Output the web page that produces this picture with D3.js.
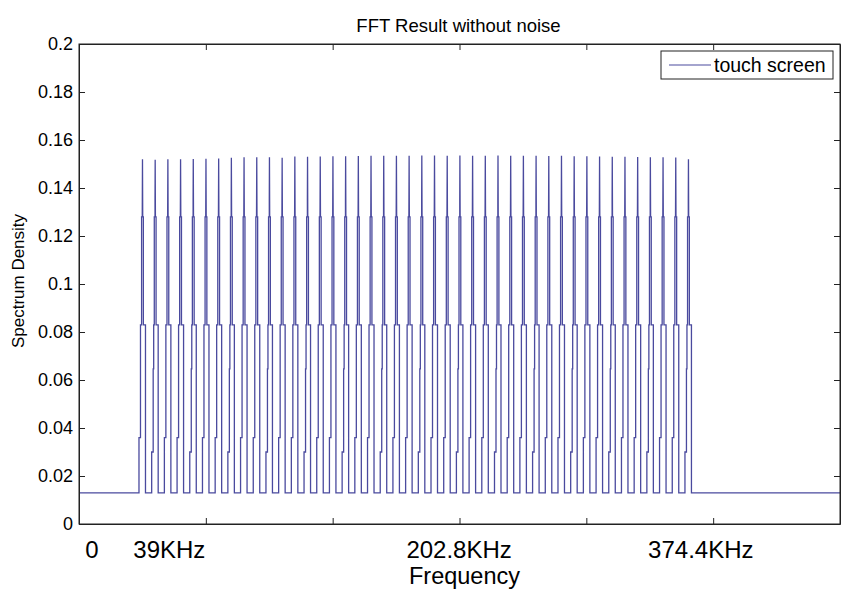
<!DOCTYPE html>
<html>
<head>
<meta charset="utf-8">
<script src="https://cdn.jsdelivr.net/npm/d3@7"></script>
<style>
  html, body { margin: 0; padding: 0; background: #fff; }
  svg { display: block; font-family: "Liberation Sans", Arial, sans-serif; }
</style>
</head>
<body>
<svg id="chart" width="854" height="602"></svg>
<script>
// ---------------- DATA ----------------
const titleText = "FFT Result without noise";
const xLabelText = "Frequency";
const yLabelText = "Spectrum Density";
const legendLabel = "touch screen";

// x domain (kHz) and y domain
const xDomain = [0, 467.5];
const yDomain = [0, 0.2];

// y tick values
const yTicks = [0, 0.02, 0.04, 0.06, 0.08, 0.1, 0.12, 0.14, 0.16, 0.18, 0.2];
// x ticks (unlabelled tick marks, 6 equal intervals)
const xTicks = [77.92, 155.83, 233.75, 311.67, 389.58];
// custom x labels: [position in kHz, text]
const xLabelPos = [8, 55.5, 233.5, 382];
const xLabelTxt = ["0", "39KHz", "202.8KHz", "374.4KHz"];

// carrier peak frequencies (kHz)
const peakFreqs = [39, 46.8, 54.6, 62.4, 70.2, 78, 85.8, 93.6, 101.4, 109.2,
  117, 124.8, 132.6, 140.4, 148.2, 156, 163.8, 171.6, 179.4, 187.2,
  195, 202.8, 210.6, 218.4, 226.2, 234, 241.8, 249.6, 257.4, 265.2,
  273, 280.8, 288.6, 296.4, 304.2, 312, 319.8, 327.6, 335.4, 343.2,
  351, 358.8, 366.6, 374.4];
// peak tip values
const peakTips = [0.1520, 0.1518, 0.1520, 0.1520, 0.1521, 0.1522, 0.1523, 0.1526, 0.1528, 0.1528,
  0.1528, 0.1526, 0.1531, 0.1530, 0.1531, 0.1532, 0.1532, 0.1533, 0.1534, 0.1534,
  0.1534, 0.1534, 0.1535, 0.1535, 0.1534, 0.1535, 0.1534, 0.1534, 0.1535, 0.1534,
  0.1534, 0.1534, 0.1533, 0.1534, 0.1532, 0.1532, 0.1531, 0.1530, 0.1530, 0.1529,
  0.1528, 0.1528, 0.1527, 0.1520];
const baseLevel = 0.013;

// peak profile: [frequency offset kHz, level] ; null level = tip
const profileA = [[-2.15, 0.013], [-2.15, 0.036], [-1.23, 0.036], [-1.23, 0.083], [-0.55, 0.083],
  [-0.55, 0.128], [-0.15, 0.128], [0, null], [0.15, 0.128], [0.55, 0.128], [0.55, 0.083],
  [1.84, 0.083], [1.84, 0.013]];
const profileB = [[-2.15, 0.013], [-2.15, 0.030], [-1.23, 0.030], [-1.23, 0.0646], [-0.92, 0.0646],
  [-0.92, 0.083], [-0.55, 0.083], [-0.55, 0.128], [-0.1, 0.128], [-0.1, 0.135], [0, null], [0.15, 0.128], [0.55, 0.128],
  [0.55, 0.083], [1.84, 0.083], [1.84, 0.036], [1.84, 0.013]];

// ---------------- CHART ----------------
const svg = d3.select("#chart");
const L = 79, R = 840, T = 44, B = 524;
const x = d3.scaleLinear().domain(xDomain).range([L, R]);
const y = d3.scaleLinear().domain(yDomain).range([B, T]);
const lineColor = "#4a4a9e";
const axisColor = "#222";

// build series points
const pts = [[xDomain[0], baseLevel]];
peakFreqs.forEach((f, i) => {
  const prof = (i % 3 === 1) ? profileB : profileA;
  prof.forEach(([df, lv]) => pts.push([f + df, lv === null ? peakTips[i] : lv]));
});
pts.push([xDomain[1], baseLevel]);

svg.append("defs").append("clipPath").attr("id", "clip")
  .append("rect").attr("x", L).attr("y", T).attr("width", R - L).attr("height", B - T);

const line = d3.line().x(d => x(d[0])).y(d => y(d[1]));
svg.append("path")
  .datum(pts)
  .attr("clip-path", "url(#clip)")
  .attr("fill", "none")
  .attr("stroke", lineColor)
  .attr("stroke-width", 1.3)
  .attr("d", line);

// axes (ticks inside)
const tickLen = 6;
const fmt = d => String(+d.toFixed(2));
const gL = svg.append("g").attr("transform", `translate(${L},0)`)
  .call(d3.axisLeft(y).tickValues(yTicks).tickSizeInner(-tickLen).tickSizeOuter(0).tickPadding(6).tickFormat(fmt));
const gR = svg.append("g").attr("transform", `translate(${R},0)`)
  .call(d3.axisRight(y).tickValues(yTicks.slice(1, -1)).tickSizeInner(-tickLen).tickSizeOuter(0).tickFormat(""));
const gB = svg.append("g").attr("transform", `translate(0,${B})`)
  .call(d3.axisBottom(x).tickValues(xTicks).tickSizeInner(-tickLen).tickSizeOuter(0).tickFormat(""));
const gT = svg.append("g").attr("transform", `translate(0,${T})`)
  .call(d3.axisTop(x).tickValues(xTicks).tickSizeInner(-tickLen).tickSizeOuter(0).tickFormat(""));
[gL, gR, gB, gT].forEach(g => {
  g.selectAll("path.domain").attr("stroke", axisColor);
  g.selectAll(".tick line").attr("stroke", axisColor);
});
gL.selectAll(".tick text").attr("font-size", 18).attr("fill", "#000")
  .attr("font-family", "Liberation Sans, Arial, sans-serif");

// frame
svg.append("rect").attr("x", L).attr("y", T).attr("width", R - L).attr("height", B - T)
  .attr("fill", "none").attr("stroke", axisColor).attr("stroke-width", 1);

// x custom labels
svg.append("g").selectAll("text").data(xLabelTxt).join("text")
  .attr("x", (d, i) => x(xLabelPos[i]))
  .attr("y", 558)
  .attr("text-anchor", "middle")
  .attr("font-size", 24)
  .attr("fill", "#000")
  .text(d => d);

// axis labels & title
svg.append("text").attr("x", (L + R) / 2 + 5).attr("y", 584).attr("text-anchor", "middle")
  .attr("font-size", 23.5).attr("fill", "#000").text(xLabelText);
svg.append("text").attr("transform", `translate(24,${(T + B) / 2 - 3}) rotate(-90)`)
  .attr("text-anchor", "middle").attr("font-size", 17).attr("fill", "#000").text(yLabelText);
svg.append("text").attr("x", (L + R) / 2 - 1).attr("y", 32).attr("text-anchor", "middle")
  .attr("font-size", 18.5).attr("fill", "#000").text(titleText);

// legend
const lg = svg.append("g");
lg.append("rect").attr("x", 661).attr("y", 51).attr("width", 172).attr("height", 28)
  .attr("fill", "#fff").attr("stroke", axisColor).attr("stroke-width", 1);
lg.append("line").attr("x1", 669).attr("x2", 711).attr("y1", 65).attr("y2", 65)
  .attr("stroke", lineColor).attr("stroke-width", 1.2);
lg.append("text").attr("x", 714).attr("y", 72).attr("font-size", 19.5).attr("fill", "#000").text(legendLabel);
</script>
</body>
</html>
